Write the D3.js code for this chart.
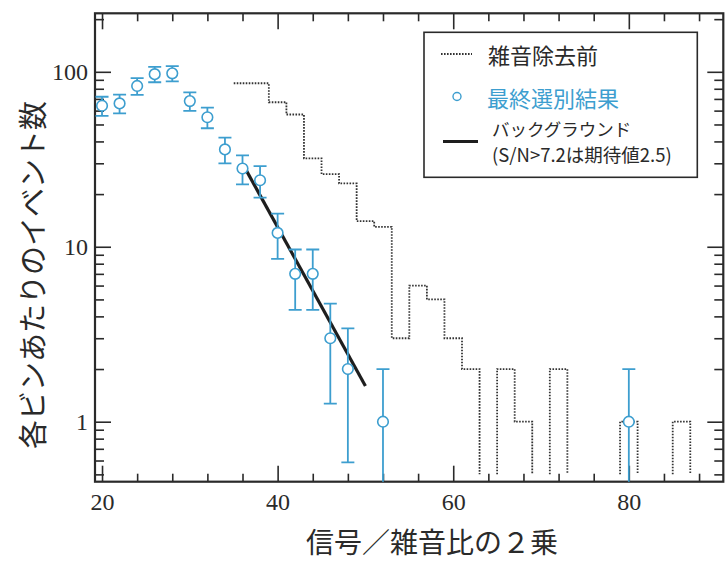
<!DOCTYPE html>
<html><head><meta charset="utf-8">
<script src="https://cdn.jsdelivr.net/npm/d3@7"></script>
<style>
html,body{margin:0;padding:0;background:#fff;}
svg{display:block;}
.tl{font-family:"Liberation Serif","DejaVu Serif","Times New Roman",Times,serif;font-size:24px;}
</style></head>
<body>
<svg id="chart" width="726" height="561"></svg>
<script>
// ---- data ----
// final selection (blue circles), error = sqrt(N)
const finalX = [20,22,24,26,28,30,32,34,36,38,40,42,44,46,48,52,80];
const finalN = [64,66,83,97,98,68,55,36,28,24,12,7,7,3,2,1,1];
// before noise removal (dotted histogram), bins of width 2 centred at:
const histCenters = [36,38,40,42,44,46,48,50,52,54,56,58,60,62,64,66,68,70,72,74,76,78,80,82,84,86];
const histCounts  = [86,86,67,57,32,26,23,14,13,3,6,5,3,2,0,2,1,0,2,0,0,0,1,0,0,1];
// background fit line
const bgX = [36.4, 50];
const bgY = [27.5, 1.6];
// axis ticks
const xMajorTicks = [20,40,60,80];
const xMinorTicks = [24,28,32,36,44,48,52,56,64,68,72,76,84,88];
const yMajorTicks = [1,10,100];
const yTickLabels = ["1","10","100"];
// texts
const xTitle = "信号／雑音比の２乗";
const yTitle = "各ビンあたりのイベント数";
const legendLabels = ["雑音除去前","最終選別結果","バックグラウンド","(S/N>7.2は期待値2.5)"];

// ---- layout ----
const L = 95, R = 723.3, T = 13.3, B = 481.7;
const blue = "#3d9ecf", ink = "#2a2a2a";
const jp = "Noto Sans CJK JP, Noto Sans CJK SC, sans-serif";

const svg = d3.select("#chart");
const x = d3.scaleLinear().domain([19.2, 90.76]).range([L, R]);
const y = d3.scaleLog().domain([0.454, 216]).range([B, T]);
const yMinor = y.ticks().filter(v => Math.abs(Math.log10(v) - Math.round(Math.log10(v))) > 1e-6);

const clipId = "plotclip";
svg.append("clipPath").attr("id", clipId).append("rect")
  .attr("x", L).attr("y", T).attr("width", R - L).attr("height", B - T);

// axes (ticks inward)
function styleAxis(g, labels) {
  g.attr("font-family", null).attr("font-size", null);
  g.select(".domain").remove();
  g.selectAll(".tick line").attr("stroke", ink).attr("stroke-width", 1.6);
  g.selectAll(".tick text").attr("fill", ink).attr("class", "tl");
  if (!labels) g.selectAll(".tick text").remove();
}
svg.append("g").attr("transform", `translate(0,${B})`)
  .call(d3.axisBottom(x).tickValues(xMajorTicks).tickSize(-16).tickPadding(11).tickFormat(d3.format("d")))
  .call(g => styleAxis(g, true));
svg.append("g").attr("transform", `translate(0,${B})`)
  .call(d3.axisBottom(x).tickValues(xMinorTicks).tickSize(-8).tickFormat(""))
  .call(g => styleAxis(g, false));
svg.append("g").attr("transform", `translate(0,${T})`)
  .call(d3.axisTop(x).tickValues(xMajorTicks).tickSize(-16).tickFormat(""))
  .call(g => styleAxis(g, false));
svg.append("g").attr("transform", `translate(0,${T})`)
  .call(d3.axisTop(x).tickValues(xMinorTicks).tickSize(-8).tickFormat(""))
  .call(g => styleAxis(g, false));
svg.append("g").attr("transform", `translate(${L},0)`)
  .call(d3.axisLeft(y).tickValues(yMajorTicks).tickSize(-16).tickPadding(7)
        .tickFormat((d, i) => yTickLabels[i]))
  .call(g => styleAxis(g, true));
svg.append("g").attr("transform", `translate(${L},0)`)
  .call(d3.axisLeft(y).tickValues(yMinor).tickSize(-9).tickFormat(""))
  .call(g => styleAxis(g, false));
svg.append("g").attr("transform", `translate(${R},0)`)
  .call(d3.axisRight(y).tickValues(yMajorTicks).tickSize(-16).tickFormat(""))
  .call(g => styleAxis(g, false));
svg.append("g").attr("transform", `translate(${R},0)`)
  .call(d3.axisRight(y).tickValues(yMinor).tickSize(-9).tickFormat(""))
  .call(g => styleAxis(g, false));

// frame
svg.append("rect").attr("x", L).attr("y", T).attr("width", R - L).attr("height", B - T)
  .attr("fill", "none").attr("stroke", ink).attr("stroke-width", 2.2);

const plot = svg.append("g").attr("clip-path", `url(#${clipId})`);

// dotted histogram
const floorV = 0.5;
const yv = v => y(Math.max(v, floorV));
let p = d3.path();
histCenters.forEach((c, i) => {
  const x0 = x(c - 1), x1 = x(c + 1), v = histCounts[i];
  if (i === 0) p.moveTo(x0, yv(v));
  if (v > 0) p.lineTo(x1, y(v)); else p.moveTo(x1, yv(v));
  const next = i + 1 < histCounts.length ? histCounts[i + 1] : 0;
  p.lineTo(x1, yv(next));
});
plot.append("path").attr("d", p.toString()).attr("fill", "none")
  .attr("stroke", "#333").attr("stroke-width", 1.8).attr("stroke-dasharray", "1.6,1.4");

// background line
plot.append("path")
  .attr("d", d3.line().x(d => x(d[0])).y(d => y(d[1]))(d3.zip(bgX, bgY)))
  .attr("fill", "none").attr("stroke", "#1e1e1e").attr("stroke-width", 3.2);

// error bars
const cap = 6.5;
const eb = plot.append("g").attr("stroke", blue).attr("stroke-width", 1.8).attr("fill", "none");
finalX.forEach((xv, i) => {
  const n = finalN[i], e = Math.sqrt(n);
  const hi = n + e, lo = n - e;
  const cx = x(xv);
  const yHi = y(hi), yLo = lo > 0 ? y(lo) : B + 5;
  eb.append("line").attr("x1", cx).attr("x2", cx).attr("y1", yHi).attr("y2", yLo);
  eb.append("line").attr("x1", cx - cap).attr("x2", cx + cap).attr("y1", yHi).attr("y2", yHi);
  if (lo > 0) eb.append("line").attr("x1", cx - cap).attr("x2", cx + cap).attr("y1", yLo).attr("y2", yLo);
});
plot.append("g").selectAll("circle").data(finalX).join("circle")
  .attr("cx", d => x(d)).attr("cy", (d, i) => y(finalN[i])).attr("r", 5.3)
  .attr("fill", "#fff").attr("stroke", blue).attr("stroke-width", 1.6);

// legend
const lg = svg.append("g");
lg.append("rect").attr("x", 424).attr("y", 32.3).attr("width", 273.3).attr("height", 145)
  .attr("fill", "#fff").attr("stroke", ink).attr("stroke-width", 1.6);
lg.append("line").attr("x1", 441).attr("x2", 472).attr("y1", 54).attr("y2", 54)
  .attr("stroke", "#333").attr("stroke-width", 1.8).attr("stroke-dasharray", "1.6,1.4");
lg.append("circle").attr("cx", 457).attr("cy", 96.5).attr("r", 4)
  .attr("fill", "#fff").attr("stroke", blue).attr("stroke-width", 1.4);
lg.append("line").attr("x1", 443).attr("x2", 478).attr("y1", 141.5).attr("y2", 141.5)
  .attr("stroke", "#1e1e1e").attr("stroke-width", 3.2);
const lt = (txt, xx, yy, size, col) => lg.append("text").text(txt).attr("x", xx).attr("y", yy)
  .style("font-family", jp).style("font-size", size + "px").attr("fill", col)
  .attr("dominant-baseline", "central");
lt(legendLabels[0], 488, 54, 22, ink);
lt(legendLabels[1], 487, 96.5, 22, blue);
lt(legendLabels[2], 492, 128, 17.5, ink);
lt(legendLabels[3], 492, 154, 18.5, ink);

// axis titles
svg.append("text").text(xTitle).attr("x", 432).attr("y", 541)
  .attr("text-anchor", "middle").attr("dominant-baseline", "central")
  .style("font-family", jp).style("font-size", "28px").attr("fill", ink);
svg.append("text").text(yTitle)
  .attr("transform", "translate(31,275) rotate(-90)")
  .attr("text-anchor", "middle").attr("dominant-baseline", "central")
  .style("font-family", jp).style("font-size", "29px").attr("fill", ink);
</script>
</body></html>
